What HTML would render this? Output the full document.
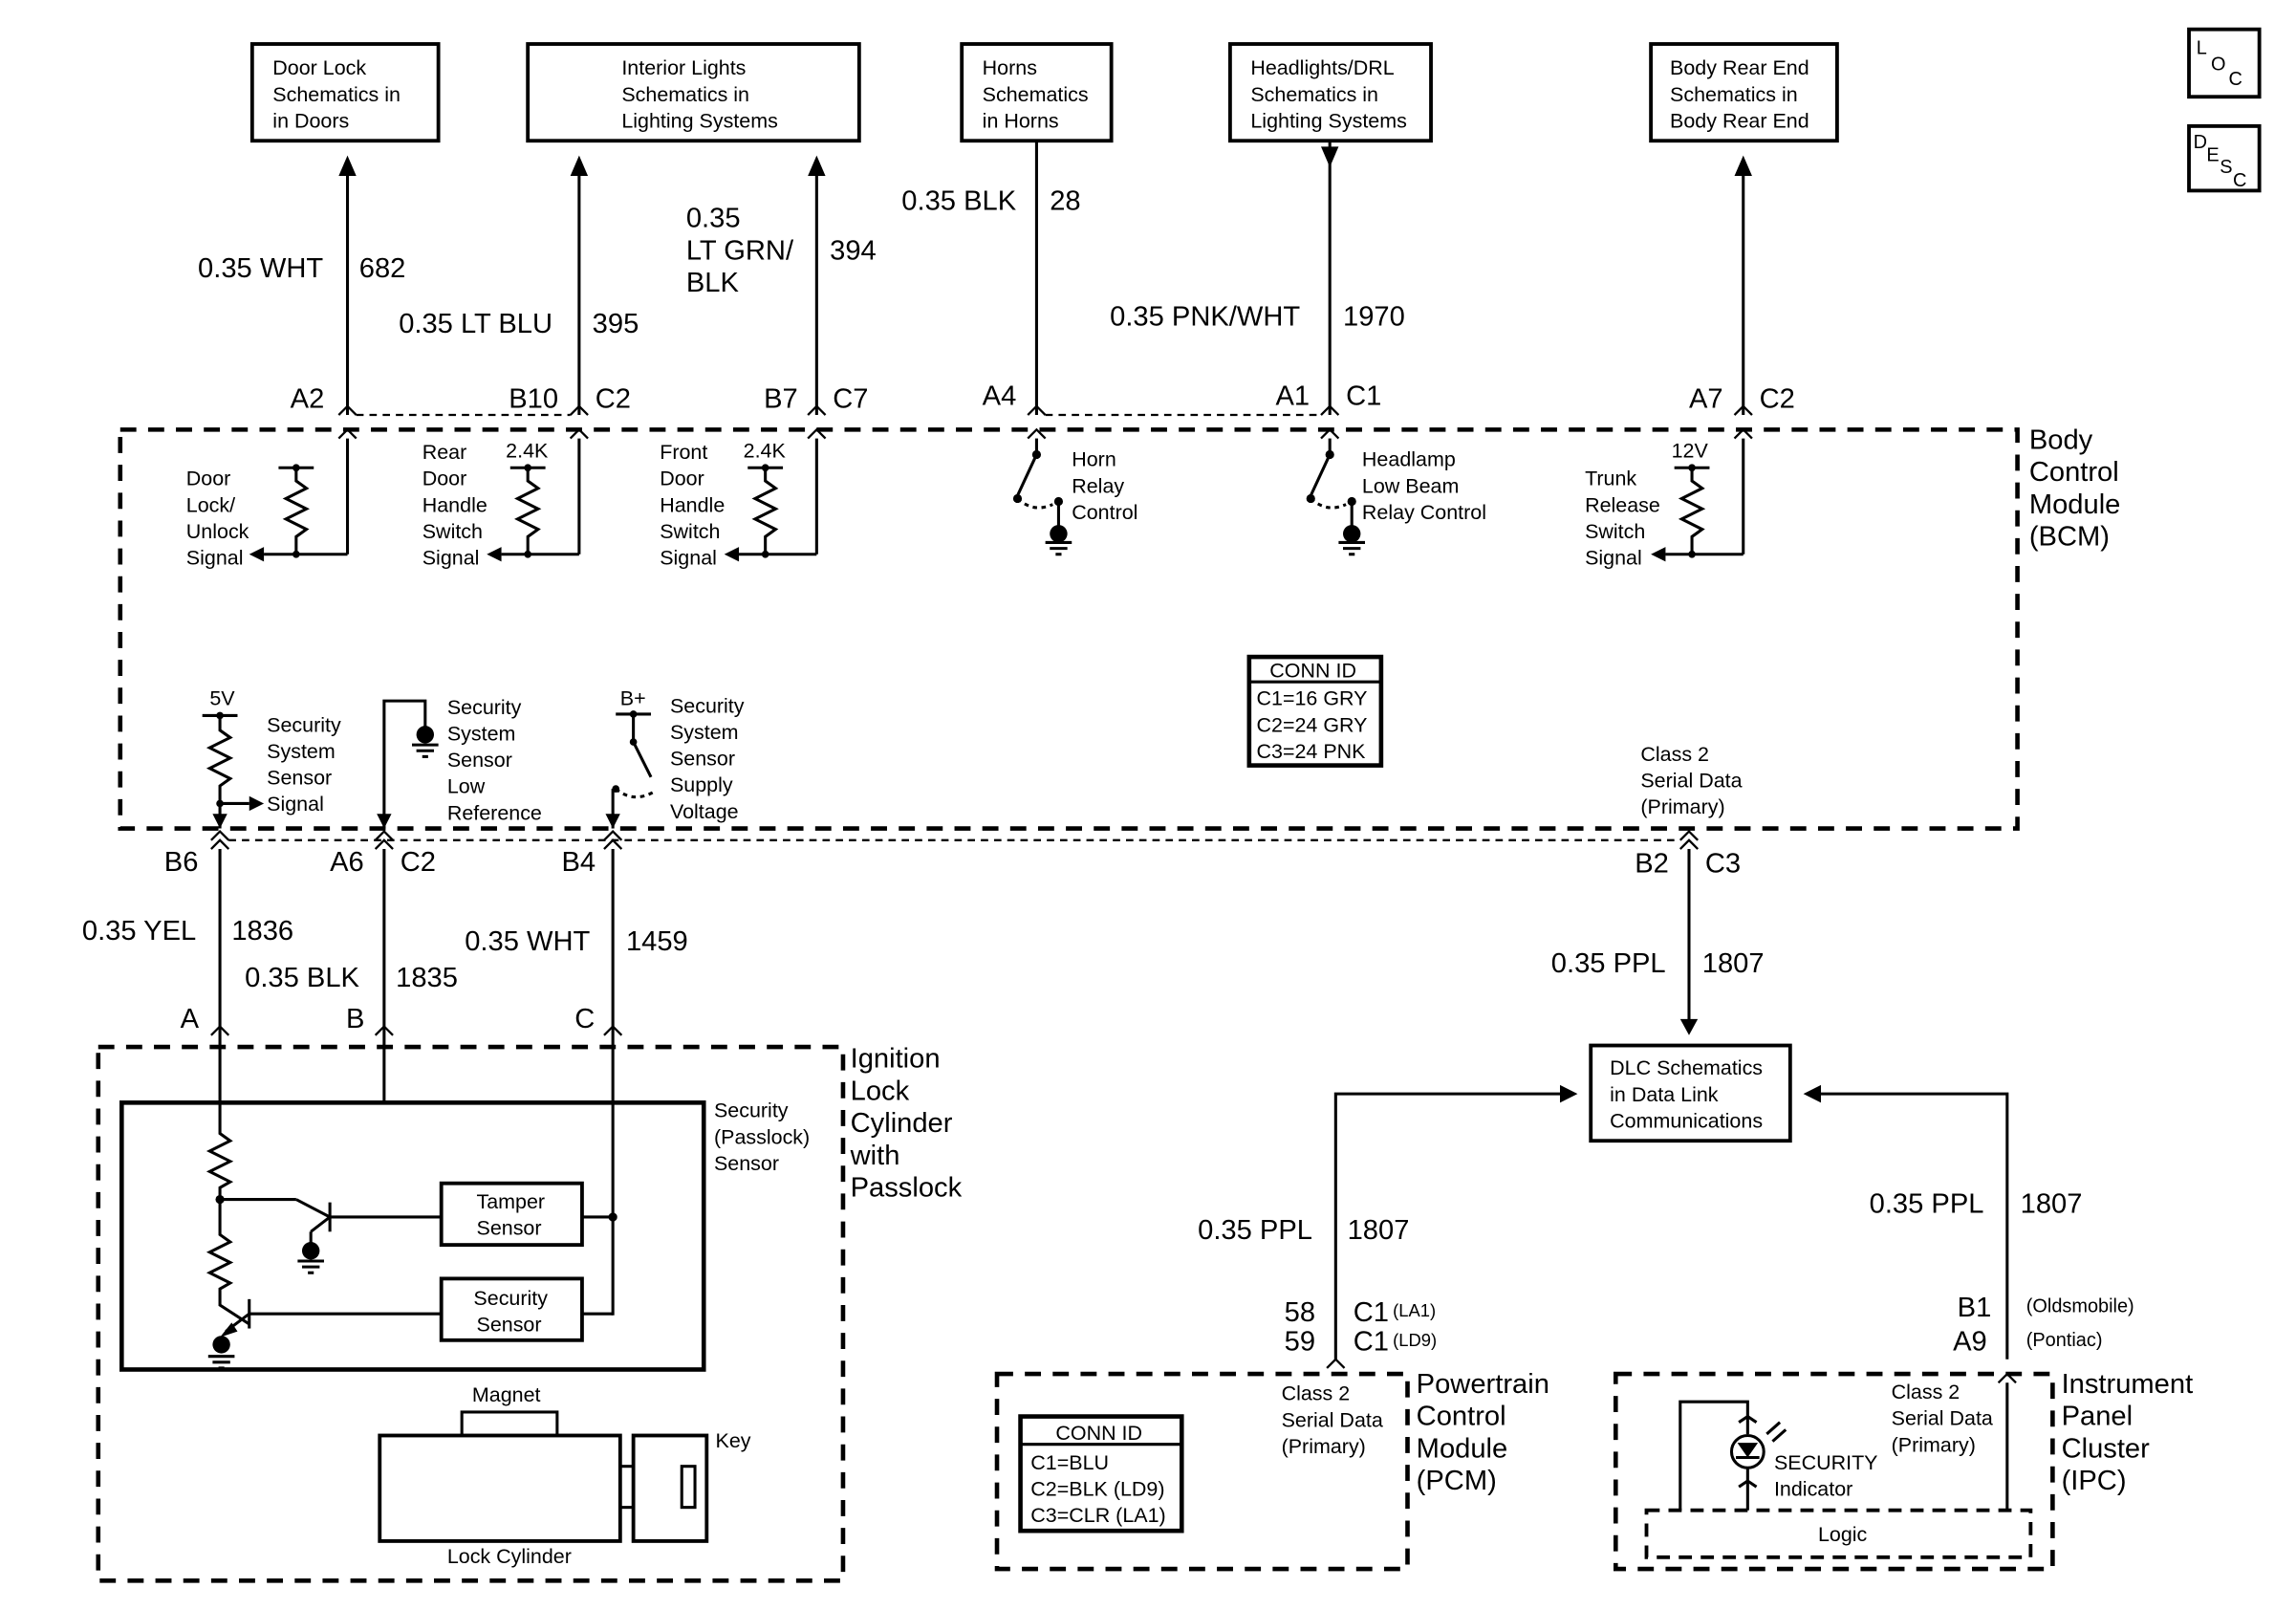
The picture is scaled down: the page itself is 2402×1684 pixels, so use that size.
<!DOCTYPE html>
<html><head><meta charset="utf-8"><style>
html,body{margin:0;padding:0;background:#fff}
svg{display:block}
text{font-family:"Liberation Sans",Arial,sans-serif;fill:#000}
.s{font-size:14px}
.m{font-size:19px}
</style></head><body>
<svg width="2402" height="1684" viewBox="0 0 1566 1098" preserveAspectRatio="none" xmlns="http://www.w3.org/2000/svg">
<g fill="none" stroke="#000" stroke-width="2">
<rect x="172" y="30" width="127" height="66" stroke-width="2.5"/>
<rect x="360" y="30" width="226" height="66" stroke-width="2.5"/>
<rect x="656" y="30" width="102" height="66" stroke-width="2.5"/>
<rect x="839" y="30" width="137" height="66" stroke-width="2.5"/>
<rect x="1126" y="30" width="127" height="66" stroke-width="2.5"/>
<rect x="1493" y="20" width="48" height="46" stroke-width="2.5"/>
<rect x="1493" y="86" width="48" height="44" stroke-width="2.5"/>
<line x1="237" y1="118" x2="237" y2="283"/>
<line x1="395" y1="118" x2="395" y2="283"/>
<line x1="557" y1="118" x2="557" y2="283"/>
<line x1="707" y1="96" x2="707" y2="283"/>
<line x1="907" y1="96" x2="907" y2="283"/>
<line x1="1189" y1="118" x2="1189" y2="283"/>
</g>
<g fill="#000">
<path d="M231,120 L237,106 L243,120 z"/>
<path d="M389,120 L395,106 L401,120 z"/>
<path d="M551,120 L557,106 L563,120 z"/>
<path d="M901,100 L907,114 L913,100 z"/>
<path d="M1183,120 L1189,106 L1195,120 z"/>
</g>
<g fill="none" stroke="#000" stroke-width="1.5">
<path d="M231,283 L237,277 L243,283"/><path d="M231,299 L237,293 L243,299"/>
<path d="M389,283 L395,277 L401,283"/><path d="M389,299 L395,293 L401,299"/>
<path d="M551,283 L557,277 L563,283"/><path d="M551,299 L557,293 L563,299"/>
<path d="M701,283 L707,277 L713,283"/><path d="M701,299 L707,293 L713,299"/>
<path d="M901,283 L907,277 L913,283"/><path d="M901,299 L907,293 L913,299"/>
<path d="M1183,283 L1189,277 L1195,283"/><path d="M1183,299 L1189,293 L1195,299"/>
<line x1="243" y1="283" x2="389" y2="283" stroke-dasharray="5,4"/>
<line x1="713" y1="283" x2="901" y2="283" stroke-dasharray="5,4"/>
<path d="M144,573 L150,567 L156,573"/><path d="M144,579 L150,573 L156,579"/>
<path d="M256,573 L262,567 L268,573"/><path d="M256,579 L262,573 L268,579"/>
<path d="M412,573 L418,567 L424,573"/><path d="M412,579 L418,573 L424,579"/>
<path d="M1146,573 L1152,567 L1158,573"/><path d="M1146,579 L1152,573 L1158,579"/>
<line x1="156" y1="573" x2="1146" y2="573" stroke-dasharray="5,4"/>
<path d="M144,706 L150,700 L156,706"/><path d="M256,706 L262,700 L268,706"/><path d="M412,706 L418,700 L424,706"/>
</g>
<rect x="82" y="293" width="1294" height="272" fill="none" stroke="#000" stroke-width="3" stroke-dasharray="11,8"/>
<g fill="none" stroke="#000" stroke-width="2">
<line x1="237" y1="299" x2="237" y2="378"/>
<line x1="237" y1="378" x2="180" y2="378"/>
<line x1="190" y1="319" x2="214" y2="319"/>
<path d="M202,319 V328 L209,333 L195,340 L209,347 L195,354 L209,361 L202,366 V378"/>
<line x1="395" y1="299" x2="395" y2="378"/><line x1="395" y1="378" x2="342" y2="378"/>
<line x1="348" y1="319" x2="372" y2="319"/>
<path d="M360,319 V328 L367,333 L353,340 L367,347 L353,354 L367,361 L360,366 V378"/>
<line x1="557" y1="299" x2="557" y2="378"/><line x1="557" y1="378" x2="504" y2="378"/>
<line x1="510" y1="319" x2="534" y2="319"/>
<path d="M522,319 V328 L529,333 L515,340 L529,347 L515,354 L529,361 L522,366 V378"/>
<line x1="1189" y1="299" x2="1189" y2="378"/><line x1="1189" y1="378" x2="1136" y2="378"/>
<line x1="1142" y1="319" x2="1166" y2="319"/>
<path d="M1154,319 V328 L1161,333 L1147,340 L1161,347 L1147,354 L1161,361 L1154,366 V378"/>
<line x1="707" y1="299" x2="707" y2="310"/>
<line x1="707" y1="310" x2="694" y2="338"/>
<path d="M694,340 Q705,350 718,344" stroke-dasharray="3,3"/>
<line x1="722" y1="342" x2="722" y2="362"/>
<line x1="713" y1="370" x2="731" y2="370"/><line x1="716" y1="374" x2="728" y2="374"/><line x1="720" y1="378" x2="724" y2="378"/>
<line x1="907" y1="299" x2="907" y2="310"/>
<line x1="907" y1="310" x2="894" y2="338"/>
<path d="M894,340 Q905,350 918,344" stroke-dasharray="3,3"/>
<line x1="922" y1="342" x2="922" y2="362"/>
<line x1="913" y1="370" x2="931" y2="370"/><line x1="916" y1="374" x2="928" y2="374"/><line x1="920" y1="378" x2="924" y2="378"/>
<line x1="138" y1="488" x2="162" y2="488"/>
<path d="M150,488 V498 L157,503 L143,510 L157,517 L143,524 L157,531 L150,536 V565"/>
<line x1="150" y1="548" x2="170" y2="548"/>
<path d="M262,565 V478 H290 V496"/>
<line x1="281" y1="508" x2="299" y2="508"/><line x1="284" y1="512" x2="296" y2="512"/><line x1="288" y1="516" x2="292" y2="516"/>
<line x1="420" y1="487" x2="444" y2="487"/>
<line x1="432" y1="487" x2="432" y2="506"/>
<line x1="432" y1="506" x2="444" y2="530"/>
<path d="M420,538 Q432,548 446,540" stroke-dasharray="3,3"/>
<line x1="418" y1="538" x2="418" y2="565"/>
<line x1="150" y1="579" x2="150" y2="752"/>
<line x1="262" y1="579" x2="262" y2="752"/>
<line x1="418" y1="579" x2="418" y2="897"/>
<line x1="1152" y1="579" x2="1152" y2="700"/>
</g>
<g fill="#000">
<path d="M170,378 L180,373 L180,383 z"/>
<circle cx="202" cy="378" r="2.5"/><circle cx="202" cy="319" r="2.5"/>
<path d="M332,378 L342,373 L342,383 z"/><circle cx="360" cy="378" r="2.5"/><circle cx="360" cy="319" r="2.5"/>
<path d="M494,378 L504,373 L504,383 z"/><circle cx="522" cy="378" r="2.5"/><circle cx="522" cy="319" r="2.5"/>
<path d="M1126,378 L1136,373 L1136,383 z"/><circle cx="1154" cy="378" r="2.5"/><circle cx="1154" cy="319" r="2.5"/>
<circle cx="707" cy="310" r="3"/><circle cx="694" cy="340" r="3"/><circle cx="722" cy="342" r="3"/><ellipse cx="722" cy="364" rx="6" ry="6"/>
<circle cx="907" cy="310" r="3"/><circle cx="894" cy="340" r="3"/><circle cx="922" cy="342" r="3"/><ellipse cx="922" cy="364" rx="6" ry="6"/>
<circle cx="150" cy="488" r="2.5"/><circle cx="150" cy="548" r="2.5"/><path d="M170,543 L180,548 L170,553 z"/>
<circle cx="290" cy="501" r="6"/>
<circle cx="432" cy="487" r="2.5"/><circle cx="432" cy="506" r="2.5"/><circle cx="420" cy="538" r="2.5"/>
<path d="M413,555 L418,565 L423,555 z"/><path d="M257,555 L262,565 L267,555 z"/><path d="M145,555 L150,565 L155,555 z"/>
<path d="M1146,695 L1152,706 L1158,695 z"/>
</g>
<rect x="852" y="448" width="90" height="74" fill="none" stroke="#000" stroke-width="3"/>
<line x1="852" y1="465" x2="942" y2="465" stroke="#000" stroke-width="2"/>
<rect x="67" y="714" width="508" height="364" fill="none" stroke="#000" stroke-width="3" stroke-dasharray="11,8"/>
<rect x="83" y="752" width="397" height="182" fill="none" stroke="#000" stroke-width="3"/>
<rect x="301" y="807" width="96" height="42" fill="none" stroke="#000" stroke-width="2.5"/>
<rect x="301" y="872" width="96" height="42" fill="none" stroke="#000" stroke-width="2.5"/>
<rect x="315" y="963" width="65" height="16" fill="none" stroke="#000" stroke-width="2"/>
<rect x="259" y="979" width="164" height="72" fill="none" stroke="#000" stroke-width="2.5"/>
<rect x="432" y="979" width="50" height="72" fill="none" stroke="#000" stroke-width="2.5"/>
<rect x="465" y="1000" width="9" height="28" fill="none" stroke="#000" stroke-width="2"/>
<g fill="none" stroke="#000" stroke-width="2">
<line x1="423" y1="1000" x2="432" y2="1000"/><line x1="423" y1="1028" x2="432" y2="1028"/>
<path d="M150,752 V773 L157,778 L143,785 L157,792 L143,799 L157,806 L150,810 V842 L157,847 L143,854 L157,861 L143,868 L157,875 L150,879 V890 L170,903"/>
<line x1="150" y1="818" x2="202" y2="818"/><line x1="202" y1="818" x2="225" y2="830"/><line x1="225" y1="830" x2="212" y2="840"/><line x1="212" y1="840" x2="212" y2="848"/>
<line x1="225" y1="820" x2="225" y2="840"/><line x1="225" y1="830" x2="301" y2="830"/>
<line x1="170" y1="886" x2="170" y2="906"/><line x1="170" y1="896" x2="301" y2="896"/>
<line x1="170" y1="896" x2="154" y2="908"/>
<line x1="397" y1="830" x2="418" y2="830"/><line x1="397" y1="896" x2="418" y2="896"/>
<line x1="203" y1="860" x2="221" y2="860"/><line x1="206" y1="864" x2="218" y2="864"/><line x1="210" y1="868" x2="214" y2="868"/>
<line x1="142" y1="925" x2="160" y2="925"/><line x1="145" y1="929" x2="157" y2="929"/><line x1="149" y1="933" x2="153" y2="933"/>
</g>
<g fill="#000"><circle cx="150" cy="818" r="3"/><circle cx="418" cy="830" r="3"/><circle cx="212" cy="853" r="6"/><circle cx="151" cy="917" r="6"/><path d="M150,912 L158,902 L162,908 z"/></g>
<rect x="1085" y="713" width="136" height="65" fill="none" stroke="#000" stroke-width="2.5"/>
<g fill="none" stroke="#000" stroke-width="2">
<path d="M911,927 V746 H1064"/>
<path d="M1369,927 V746 H1242"/>
</g>
<g fill="#000"><path d="M1064,740 L1076,746 L1064,752 z"/><path d="M1242,740 L1230,746 L1242,752 z"/></g>
<g fill="none" stroke="#000" stroke-width="1.5"><path d="M905,933 L911,927 L917,933"/><path d="M1363,943 L1369,937 L1375,943"/></g>
<rect x="680" y="937" width="280" height="133" fill="none" stroke="#000" stroke-width="3" stroke-dasharray="11,8"/>
<rect x="696" y="966" width="110" height="78" fill="none" stroke="#000" stroke-width="3"/>
<line x1="696" y1="985" x2="806" y2="985" stroke="#000" stroke-width="2"/>
<rect x="1102" y="937" width="298" height="133" fill="none" stroke="#000" stroke-width="3" stroke-dasharray="11,8"/>
<rect x="1123" y="1030" width="262" height="32" fill="none" stroke="#000" stroke-width="2.5" stroke-dasharray="9,6"/>
<g fill="none" stroke="#000" stroke-width="2">
<path d="M1369,943 V1030"/>
<path d="M1146,1030 V956 H1192 V978"/>
<circle cx="1192" cy="990" r="11"/>
<line x1="1192" y1="1001" x2="1192" y2="1030"/>
<line x1="1186" y1="1014" x2="1192" y2="1010"/><line x1="1198" y1="1014" x2="1192" y2="1010"/>
<line x1="1186" y1="970" x2="1192" y2="966"/><line x1="1198" y1="970" x2="1192" y2="966"/>
<line x1="1184" y1="994" x2="1200" y2="994"/>
<line x1="1205" y1="978" x2="1214" y2="970"/><line x1="1209" y1="983" x2="1218" y2="975"/>
</g>
<path d="M1185,984 L1199,984 L1192,994 z" fill="#000"/>

<g class="s">
<text x="186" y="51">Door Lock</text><text x="186" y="69">Schematics in</text><text x="186" y="87">in Doors</text>
<text x="424" y="51">Interior Lights</text><text x="424" y="69">Schematics in</text><text x="424" y="87">Lighting Systems</text>
<text x="670" y="51">Horns</text><text x="670" y="69">Schematics</text><text x="670" y="87">in Horns</text>
<text x="853" y="51">Headlights/DRL</text><text x="853" y="69">Schematics in</text><text x="853" y="87">Lighting Systems</text>
<text x="1139" y="51">Body Rear End</text><text x="1139" y="69">Schematics in</text><text x="1139" y="87">Body Rear End</text>
<text x="127" y="331">Door</text><text x="127" y="349">Lock/</text><text x="127" y="367">Unlock</text><text x="127" y="385">Signal</text>
<text x="288" y="313">Rear</text><text x="288" y="331">Door</text><text x="288" y="349">Handle</text><text x="288" y="367">Switch</text><text x="288" y="385">Signal</text>
<text x="345" y="312">2.4K</text>
<text x="450" y="313">Front</text><text x="450" y="331">Door</text><text x="450" y="349">Handle</text><text x="450" y="367">Switch</text><text x="450" y="385">Signal</text>
<text x="507" y="312">2.4K</text>
<text x="731" y="318">Horn</text><text x="731" y="336">Relay</text><text x="731" y="354">Control</text>
<text x="929" y="318">Headlamp</text><text x="929" y="336">Low Beam</text><text x="929" y="354">Relay Control</text>
<text x="1081" y="331">Trunk</text><text x="1081" y="349">Release</text><text x="1081" y="367">Switch</text><text x="1081" y="385">Signal</text>
<text x="1140" y="312">12V</text>
<text x="143" y="481">5V</text>
<text x="182" y="499">Security</text><text x="182" y="517">System</text><text x="182" y="535">Sensor</text><text x="182" y="553">Signal</text>
<text x="305" y="487">Security</text><text x="305" y="505">System</text><text x="305" y="523">Sensor</text><text x="305" y="541">Low</text><text x="305" y="559">Reference</text>
<text x="423" y="481">B+</text>
<text x="457" y="486">Security</text><text x="457" y="504">System</text><text x="457" y="522">Sensor</text><text x="457" y="540">Supply</text><text x="457" y="558">Voltage</text>
<text x="866" y="462">CONN ID</text><text x="857" y="481">C1=16 GRY</text><text x="857" y="499">C2=24 GRY</text><text x="857" y="517">C3=24 PNK</text>
<text x="1119" y="519">Class 2</text><text x="1119" y="537">Serial Data</text><text x="1119" y="555">(Primary)</text>
<text x="487" y="762">Security</text><text x="487" y="780">(Passlock)</text><text x="487" y="798">Sensor</text>
<text x="325" y="824">Tamper</text><text x="325" y="842">Sensor</text>
<text x="323" y="890">Security</text><text x="325" y="908">Sensor</text>
<text x="322" y="956">Magnet</text><text x="488" y="987">Key</text><text x="305" y="1066">Lock Cylinder</text>
<text x="1098" y="733">DLC Schematics</text><text x="1098" y="751">in Data Link</text><text x="1098" y="769">Communications</text>
<text x="874" y="955">Class 2</text><text x="874" y="973">Serial Data</text><text x="874" y="991">(Primary)</text>
<text x="720" y="982">CONN ID</text><text x="703" y="1002">C1=BLU</text><text x="703" y="1020">C2=BLK (LD9)</text><text x="703" y="1038">C3=CLR (LA1)</text>
<text x="1290" y="954">Class 2</text><text x="1290" y="972">Serial Data</text><text x="1290" y="990">(Primary)</text>
<text x="1210" y="1002">SECURITY</text><text x="1210" y="1020">Indicator</text>
<text x="1240" y="1051">Logic</text>
<text x="950" y="898" style="font-size:12px">(LA1)</text><text x="950" y="918" style="font-size:12px">(LD9)</text>
<text x="1382" y="895" style="font-size:13px">(Oldsmobile)</text><text x="1382" y="918" style="font-size:13px">(Pontiac)</text>
</g>
<text x="1498" y="37" style="font-size:13px">L</text><text x="1508" y="48" style="font-size:13px">O</text><text x="1520" y="58" style="font-size:13px">C</text>
<text x="1496" y="101" style="font-size:13px">D</text><text x="1505" y="110" style="font-size:13px">E</text><text x="1514" y="118" style="font-size:13px">S</text><text x="1523" y="127" style="font-size:13px">C</text>
<g class="m">
<text x="135" y="189">0.35 WHT</text><text x="245" y="189">682</text>
<text x="272" y="227">0.35 LT BLU</text><text x="404" y="227">395</text>
<text x="468" y="155">0.35</text><text x="468" y="177">LT GRN/</text><text x="468" y="199">BLK</text><text x="566" y="177">394</text>
<text x="615" y="143">0.35 BLK</text><text x="716" y="143">28</text>
<text x="757" y="222">0.35 PNK/WHT</text><text x="916" y="222">1970</text>
<text x="198" y="278">A2</text><text x="347" y="278">B10</text><text x="406" y="278">C2</text>
<text x="521" y="278">B7</text><text x="568" y="278">C7</text>
<text x="670" y="276">A4</text><text x="870" y="276">A1</text><text x="918" y="276">C1</text>
<text x="1152" y="278">A7</text><text x="1200" y="278">C2</text>
<text x="112" y="594">B6</text><text x="225" y="594">A6</text><text x="273" y="594">C2</text><text x="383" y="594">B4</text>
<text x="1115" y="595">B2</text><text x="1163" y="595">C3</text>
<text x="56" y="641">0.35 YEL</text><text x="158" y="641">1836</text>
<text x="167" y="673">0.35 BLK</text><text x="270" y="673">1835</text>
<text x="317" y="648">0.35 WHT</text><text x="427" y="648">1459</text>
<text x="1058" y="663">0.35 PPL</text><text x="1161" y="663">1807</text>
<text x="123" y="701">A</text><text x="236" y="701">B</text><text x="392" y="701">C</text>
<text x="817" y="845">0.35 PPL</text><text x="919" y="845">1807</text>
<text x="1275" y="827">0.35 PPL</text><text x="1378" y="827">1807</text>
<text x="876" y="901">58</text><text x="923" y="901">C1</text>
<text x="876" y="921">59</text><text x="923" y="921">C1</text>
<text x="1335" y="898">B1</text><text x="1332" y="921">A9</text>
<text x="1384" y="306">Body</text><text x="1384" y="328">Control</text><text x="1384" y="350">Module</text><text x="1384" y="372">(BCM)</text>
<text x="580" y="728">Ignition</text><text x="580" y="750">Lock</text><text x="580" y="772">Cylinder</text><text x="580" y="794">with</text><text x="580" y="816">Passlock</text>
<text x="966" y="950">Powertrain</text><text x="966" y="972">Control</text><text x="966" y="994">Module</text><text x="966" y="1016">(PCM)</text>
<text x="1406" y="950">Instrument</text><text x="1406" y="972">Panel</text><text x="1406" y="994">Cluster</text><text x="1406" y="1016">(IPC)</text>
</g>
</svg>
</body></html>
